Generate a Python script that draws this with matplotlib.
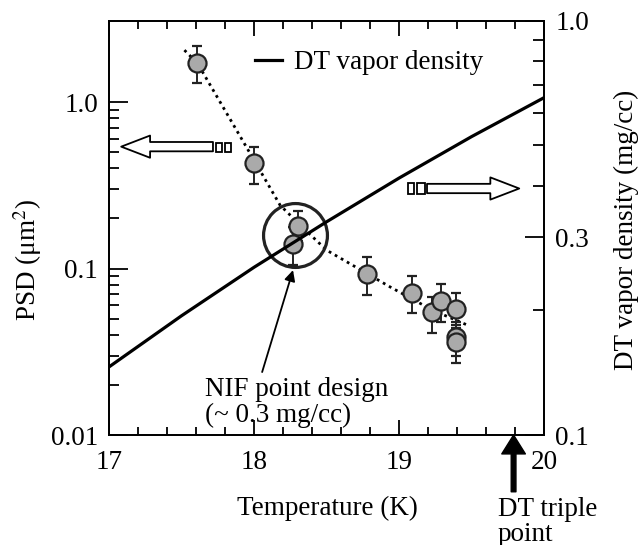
import matplotlib
matplotlib.use("Agg")
import matplotlib.pyplot as plt
from matplotlib.patches import Rectangle
from matplotlib.ticker import FixedLocator, NullFormatter

plt.rcParams['font.family'] = ['Liberation Serif', 'DejaVu Serif']
plt.rcParams['mathtext.fontset'] = 'stix'

# measured PSD points (left axis)
temp_pts = [17.61, 18.00, 18.30, 18.27, 18.78, 19.09, 19.23, 19.29, 19.39, 19.39, 19.39]
psd_pts = [1.71, 0.43, 0.180, 0.140, 0.093, 0.071, 0.055, 0.064, 0.057, 0.039, 0.036]
psd_hi = [2.17, 0.54, 0.221, 0.178, 0.117, 0.090, 0.067, 0.081, 0.071, 0.048, 0.044]
psd_lo = [1.30, 0.32, 0.146, 0.105, 0.069, 0.054, 0.041, 0.048, 0.046, 0.030, 0.027]

# dotted guide through the points
fit_temp = [17.52, 17.61, 18.00, 18.18, 18.32, 18.50, 18.94, 19.23, 19.47]
fit_psd = [2.05, 1.71, 0.448, 0.240, 0.182, 0.129, 0.0774, 0.0563, 0.0458]

# DT vapor density (right axis)
vap_temp = [17.0, 17.5, 18.0, 18.5, 19.0, 19.5, 20.0]
vap_dens = [0.146, 0.194, 0.254, 0.327, 0.417, 0.525, 0.652]

nif_temp, nif_psd = 18.283, 0.159
triple_temp = 19.79

fs = 19.5
fig = plt.figure(figsize=(6.42, 5.45), dpi=100)
ax = fig.add_axes([0.1698, 0.2018, 0.6776, 0.7602])
ax2 = ax.twinx()

ax.set_xlim(17, 20)
ax.set_yscale('log')
ax.set_ylim(0.01, 3.08)
ax2.set_yscale('log')
ax2.set_ylim(0.1, 1.0)

ax.set_xticks([17, 18, 19, 20])
ax.set_xticklabels(['17', '18', '19', '20'])
ax.xaxis.set_minor_locator(FixedLocator([17 + 0.2 * i for i in range(16)]))
ax.set_yticks([0.01, 0.1, 1.0])
ax.set_yticklabels(['0.01', '0.1', '1.0'])
ax.yaxis.set_minor_locator(FixedLocator([k * 0.01 for k in range(2, 10)] + [k * 0.1 for k in range(2, 10)]))
ax.yaxis.set_minor_formatter(NullFormatter())
ax2.set_yticks([0.1, 0.3, 1.0])
ax2.set_yticklabels(['0.1', '0.3', '1.0'])
ax2.yaxis.set_minor_locator(FixedLocator([0.2, 0.4, 0.5, 0.6, 0.7, 0.8, 0.9]))
ax2.yaxis.set_minor_formatter(NullFormatter())

ax.tick_params(axis='both', which='both', direction='in', labelsize=fs, width=1.3)
ax.tick_params(axis='x', which='both', top=True)
ax.tick_params(axis='x', which='major', length=11, pad=11)
ax.tick_params(axis='x', which='minor', length=6)
ax.tick_params(axis='y', which='major', length=14, pad=8)
ax.tick_params(axis='y', which='minor', length=7)
ax2.tick_params(axis='y', which='both', direction='in', labelsize=fs, width=1.3, pad=8)
ax2.tick_params(axis='y', which='major', length=14)
ax2.tick_params(axis='y', which='minor', length=8)
for a in (ax, ax2):
    for s in a.spines.values():
        s.set_linewidth(1.3)

ax.plot(fit_temp, fit_psd, linestyle=(0, (1, 1.5)), color='black', lw=2.0, zorder=2)
yerr = [[p - lo for p, lo in zip(psd_pts, psd_lo)], [hi - p for p, hi in zip(psd_pts, psd_hi)]]
ax.errorbar(temp_pts, psd_pts, yerr=yerr, fmt='o', ms=13, mfc='#aaaaaa', mec='#222222',
            mew=1.6, ecolor='#222222', elinewidth=1.4, capsize=3.5, capthick=1.4, zorder=3)
ax.plot([nif_temp], [nif_psd], 'o', ms=46, mfc='none', mec='#222222', mew=2.3, zorder=4)

ax2.plot(vap_temp, vap_dens, color='black', lw=2.3, label='DT vapor density')
leg = ax2.legend(loc='center left', bbox_to_anchor=(0.336, 0.899), frameon=False,
                 fontsize=fs, handlelength=1.0, handletextpad=0.45,
                 borderpad=0, borderaxespad=0)

# hollow direction arrows
hollow = dict(arrowstyle='simple,head_length=1.3,head_width=1.0,tail_width=0.42',
              fc='white', ec='black', lw=1.3, mutation_scale=16, shrinkA=0, shrinkB=0)
ax.annotate('', xy=(0.028, 0.696), xytext=(0.239, 0.696), xycoords='axes fraction',
            arrowprops=hollow)
ax.annotate('', xy=(0.943, 0.595), xytext=(0.731, 0.595), xycoords='axes fraction',
            arrowprops=hollow)
for x0, w in [(0.246, 0.0135), (0.267, 0.0125)]:
    ax.add_patch(Rectangle((x0, 0.684), w, 0.0217, transform=ax.transAxes,
                           fc='white', ec='black', lw=1.3, zorder=5))
for x0, w in [(0.687, 0.0140), (0.708, 0.0185)]:
    ax.add_patch(Rectangle((x0, 0.581), w, 0.0265, transform=ax.transAxes,
                           fc='white', ec='black', lw=1.3, zorder=5))

# NIF point design
ax.annotate('', xy=(0.423, 0.398), xytext=(0.352, 0.152), xycoords='axes fraction',
            arrowprops=dict(arrowstyle='-|>', color='black', lw=1.3, mutation_scale=16,
                            shrinkA=0, shrinkB=0))
ax.text(0.221, 0.140, 'NIF point design\n(~ 0.3 mg/cc)', transform=ax.transAxes,
        fontsize=fs, ha='left', va='top', linespacing=1.05)

# DT triple point
ax.annotate('', xy=(triple_temp, 0.0), xytext=(triple_temp, -0.137),
            xycoords=('data', 'axes fraction'), annotation_clip=False,
            arrowprops=dict(arrowstyle='simple,head_length=0.8,head_width=1.0,tail_width=0.2',
                            fc='black', ec='black', mutation_scale=17, shrinkA=0, shrinkB=0))
ax.text(19.683, -0.149, 'DT triple\npoint', transform=ax.get_xaxis_transform(),
        fontsize=fs, ha='left', va='top', linespacing=1.0, clip_on=False)

fig.text(327 / 642, 1 - 508 / 545, 'Temperature (K)', fontsize=fs, ha='center', va='center')
fig.text(28 / 642, 1 - 260 / 545, 'PSD (μm$^2$)', fontsize=fs, ha='center', va='center',
         rotation=90)
fig.text(626 / 642, 1 - 230 / 545, 'DT vapor density (mg/cc)', fontsize=fs, ha='center',
         va='center', rotation=90)

fig.savefig('out.png', dpi=100)
